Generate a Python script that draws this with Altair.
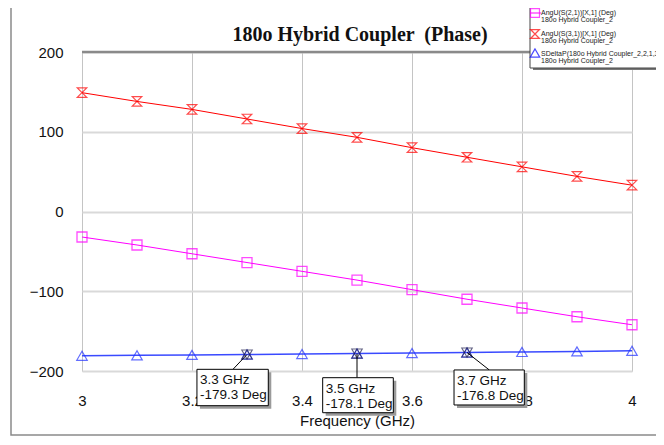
import altair as alt
import pandas as pd

# ---- data ----
freq = [3.0, 3.1, 3.2, 3.3, 3.4, 3.5, 3.6, 3.7, 3.8, 3.9, 4.0]
ang_s21 = [-32, -42, -53, -64, -75, -86, -98, -110, -121, -132, -142]
ang_s31 = [149, 138, 128, 116, 104, 93, 80, 68, 56, 44, 33]
delta_p = [-180.9, -180.3, -179.8, -179.3, -178.7, -178.1, -177.5, -176.8, -176.1, -175.4, -174.7]

marker_freq = [3.3, 3.5, 3.7]
marker_val = [-179.3, -178.1, -176.8]
marker_l1 = ["3.3 GHz", "3.5 GHz", "3.7 GHz"]
marker_l2 = ["-179.3 Deg", "-178.1 Deg", "-176.8 Deg"]
# annotation box placement (data units)
box_x1 = [3.209, 3.4376, 3.6764]
box_x2 = [3.3387, 3.566, 3.8042]
box_y1 = [-197.9, -208.4, -198.7]
box_y2 = [-243.5, -252.3, -242.6]
lead_x = [3.2745, 3.5, 3.7405]

x_ticks = [3, 3.2, 3.4, 3.6, 3.8, 4]
y_ticks = [-200, -100, 0, 100, 200]

legend_l1 = ["AngU(S(2,1))[X,1] (Deg)", "AngU(S(3,1))[X,1] (Deg)",
             "SDeltaP(180o Hybrid Coupler_2,2,1,3,1) (Deg)"]
legend_l2 = ["180o Hybrid Coupler_2"] * 3

title_text = "180o Hybrid Coupler \u00a0(Phase)"

W, H = 550, 319
HOURGLASS = "M-1,-1L1,-1L-1,1L1,1Z"

df = pd.DataFrame({"f": freq, "s21": ang_s21, "s31": ang_s31, "dp": delta_p})
mk = pd.DataFrame({"f": marker_freq, "v": marker_val, "l1": marker_l1, "l2": marker_l2,
                   "bx1": box_x1, "bx2": box_x2, "by1": box_y1, "by2": box_y2, "lx": lead_x})
one = pd.DataFrame({"k": [0]})

xs = alt.Scale(domain=[3, 4], nice=False, zero=False)
ys = alt.Scale(domain=[-200, 200], nice=False, zero=False)

X = alt.X("f:Q", scale=xs, axis=alt.Axis(values=x_ticks, title="Frequency (GHz)", format="~g",
          grid=True, gridColor="#c4c4c4", gridWidth=1, domain=False, ticks=False,
          labelFont="Liberation Sans", labelFontSize=15, labelColor="#111",
          labelPadding=22, titleFont="Liberation Sans", titleFontSize=15,
          titleFontWeight="normal", titleColor="#111", titlePadding=5,
          labelFlush=False))
Y = alt.Y("s21:Q", scale=ys, axis=alt.Axis(values=y_ticks, title=None, grid=True,
          gridColor="#d9d9d9", gridWidth=2, domain=False, ticks=False,
          labelFont="Liberation Sans", labelFontSize=15, labelColor="#111",
          labelPadding=19, labelFlush=False))

def xq(field):
    return alt.X(field, scale=xs)

def yq(field):
    return alt.Y(field, scale=ys)

base = alt.Chart(df)
line21 = base.mark_line(color="#ff00ff", strokeWidth=1).encode(x=X, y=Y)
pt21 = base.mark_point(shape="square", color="#ff00ff", size=100, strokeWidth=1.3, filled=False).encode(x=xq("f:Q"), y=yq("s21:Q"))
line31 = base.mark_line(color="#ff0000", strokeWidth=1).encode(x=xq("f:Q"), y=yq("s31:Q"))
pt31 = base.mark_point(shape=HOURGLASS, color="#ff0000", size=90, strokeWidth=1.2, filled=False).encode(x=xq("f:Q"), y=yq("s31:Q"))
linedp = base.mark_line(color="#3a4aff", strokeWidth=1.5).encode(x=xq("f:Q"), y=yq("dp:Q"))
ptdp = base.mark_point(shape="triangle-up", color="#2030ff", size=110, strokeWidth=1.2, filled=False).encode(x=xq("f:Q"), y=yq("dp:Q"))

mkb = alt.Chart(mk)
mk_down = mkb.mark_point(shape="triangle-down", color="#202050", size=110, strokeWidth=1.1, filled=False).encode(x=xq("f:Q"), y=yq("v:Q"))
mk_up = mkb.mark_point(shape="triangle-up", color="#202050", size=110, strokeWidth=1.1, filled=False).encode(x=xq("f:Q"), y=yq("v:Q"))
lead = mkb.mark_rule(color="#000", strokeWidth=1).encode(x=xq("f:Q"), y=yq("v:Q"), x2="lx:Q", y2="by1:Q")
shadow = mkb.mark_rect(fill="#9a9a9a", xOffset=3, x2Offset=3, yOffset=3, y2Offset=3).encode(
    x=xq("bx1:Q"), x2="bx2:Q", y=yq("by1:Q"), y2="by2:Q")
box = mkb.mark_rect(fill="white", stroke="#000", strokeWidth=1).encode(
    x=xq("bx1:Q"), x2="bx2:Q", y=yq("by1:Q"), y2="by2:Q")
txt1 = mkb.mark_text(align="left", baseline="middle", font="Liberation Sans", fontSize=13.5,
                     color="#111", dx=3, dy=11).encode(x=xq("bx1:Q"), y=yq("by1:Q"), text="l1:N")
txt2 = mkb.mark_text(align="left", baseline="middle", font="Liberation Sans", fontSize=13.5,
                     color="#111", dx=3, dy=26).encode(x=xq("bx1:Q"), y=yq("by1:Q"), text="l2:N")

# frame pieces
c1 = alt.Chart(one)
top_rule = c1.mark_rule(color="#8a8a8a", strokeWidth=2.5).encode(
    x=alt.value(0), x2=alt.value(W), y=alt.value(0))
outer = c1.mark_rect(fill=None, stroke="#8a8a8a", strokeWidth=1.5).encode(
    x=alt.value(-71), x2=alt.value(700), y=alt.value(-47), y2=alt.value(383))
title = c1.mark_text(font="Liberation Serif", fontSize=20, fontWeight="bold", color="#111",
                     baseline="middle", align="center").encode(
    text=alt.value(title_text), x=alt.value(278), y=alt.value(-17))

# legend box
lg_shadow = c1.mark_rect(fill="#777").encode(
    x=alt.value(451), x2=alt.value(700), y=alt.value(-45), y2=alt.value(18))
lg_box = c1.mark_rect(fill="white", stroke="#444", strokeWidth=1).encode(
    x=alt.value(448), x2=alt.value(700), y=alt.value(-47), y2=alt.value(16))
row_y = [-39, -18, 2]
lg_layers = []
for i in range(3):
    lg_layers.append(c1.mark_text(align="left", baseline="middle", font="Liberation Sans",
                                  fontSize=7, color="#222").encode(
        text=alt.value(legend_l1[i]), x=alt.value(459), y=alt.value(row_y[i])))
    lg_layers.append(c1.mark_text(align="left", baseline="middle", font="Liberation Sans",
                                  fontSize=7, color="#222").encode(
        text=alt.value(legend_l2[i]), x=alt.value(459), y=alt.value(row_y[i] + 7)))
lg_sqline = c1.mark_rule(color="#ff00ff").encode(x=alt.value(448), x2=alt.value(459), y=alt.value(-39))
lg_sq = c1.mark_point(shape="square", color="#ff00ff", size=80, strokeWidth=1.2).encode(
    x=alt.value(453), y=alt.value(-39))
lg_hg = c1.mark_point(shape=HOURGLASS, color="#ff0000", size=80, strokeWidth=1.2).encode(
    x=alt.value(453), y=alt.value(-18))
lg_tri = c1.mark_point(shape="triangle-up", color="#0000ff", size=90, strokeWidth=1.2).encode(
    x=alt.value(453), y=alt.value(1))

chart = alt.layer(
    line21, pt21, line31, pt31, linedp, ptdp, mk_down, mk_up, lead, shadow, box, txt1, txt2,
    top_rule, outer, title, lg_shadow, lg_box, *lg_layers, lg_sqline, lg_sq, lg_hg, lg_tri
).properties(
    width=W, height=H,
    autosize=alt.AutoSizeParams(type="none"),
    padding={"left": 74, "top": 44, "right": 24, "bottom": 66},
).configure_view(stroke="#000", strokeWidth=1.2).configure(background="white")

chart.save("out.html", embed_options={"renderer": "svg", "actions": False})
